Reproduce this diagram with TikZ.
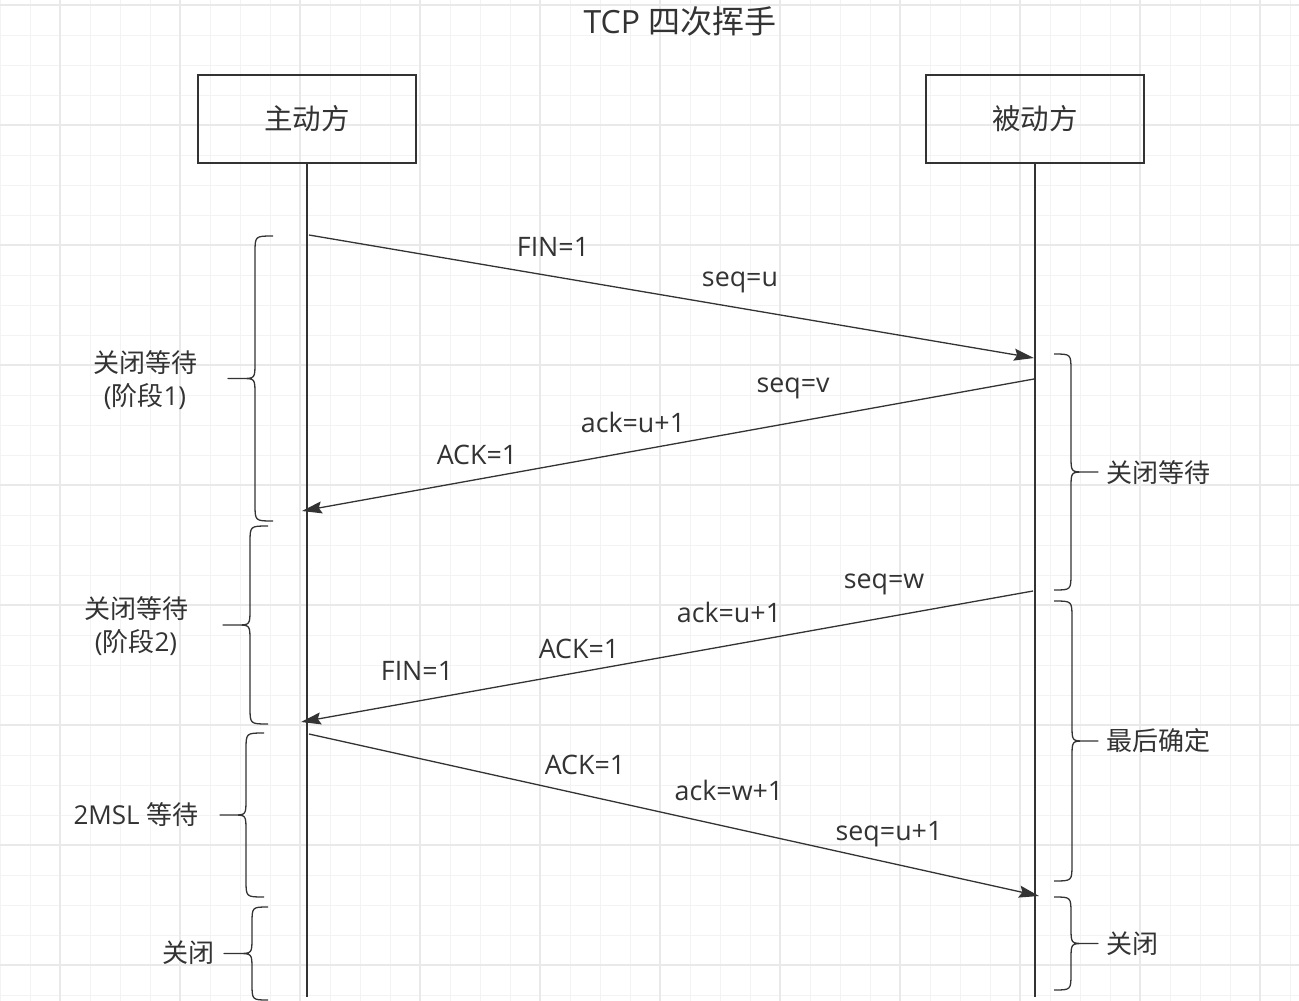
\documentclass[tikz,border=0pt]{standalone}
\usepackage{fontspec}
\setmainfont{Open Sans}
\newfontfamily\cjk{Noto Sans CJK SC}
\usetikzlibrary{arrows.meta}
\definecolor{ink}{HTML}{333333}
\definecolor{gridminor}{HTML}{F3F3F3}
\definecolor{gridmajor}{HTML}{E9E9E9}
\newcommand\mybrc[5]{% #1 end x, #2 spine x, #3 tip x, #4 top y, #5 bottom y
  \pgfmathsetmacro\bm{(#4+#5)/2}%
  \pgfmathsetmacro\bc{#2+0.5*(#3-#2)}%
  \draw[brc] (#1,#4) .. controls (#2,#4) .. (#2,#4+17) -- (#2,\bm-16)
    .. controls (#2,\bm) .. (\bc,\bm) -- (#3,\bm) -- (\bc,\bm)
    .. controls (#2,\bm) .. (#2,\bm+16) -- (#2,#5-17)
    .. controls (#2,#5) .. (#1,#5);
}
\begin{document}
\begin{tikzpicture}[x=1pt,y=-1pt,
  box/.style={draw=ink, line width=1.3pt, minimum width=218pt, minimum height=88pt, inner sep=0pt, text=ink, font=\fontsize{28.5}{34}\selectfont\cjk},
  lbl/.style={inner sep=0pt, text=ink, font=\fontsize{26}{33}\selectfont},
  mlbl/.style={inner sep=0pt, text=ink, font=\fontsize{26.8}{33}\selectfont},
  arr/.style={draw=ink, line width=1.3pt, -{Stealth[length=20pt,width=12pt,inset=3pt]}},
  life/.style={draw=ink, line width=1.3pt},
  brc/.style={draw=ink, line width=1.3pt, line join=round},
  gmin/.style={draw=gridminor, line width=1pt},
  gmaj/.style={draw=gridmajor, line width=1.3pt}]
\fill[white] (0,0) rectangle (1299,1001);
\useasboundingbox (0,0) rectangle (1299,1001);
% grid
\foreach \x in {0,30,...,1290} \draw[gmin] (\x,0) -- (\x,1001);
\foreach \y in {5,35,...,1000} \draw[gmin] (0,\y) -- (1299,\y);
\foreach \x in {60,180,...,1290} \draw[gmaj] (\x,0) -- (\x,1001);
\foreach \y in {5,125,...,1000} \draw[gmaj] (0,\y) -- (1299,\y);
% title
\node[lbl, anchor=base, font=\fontsize{32}{36}\selectfont] (title) at (680,34) {TCP {\cjk 四次挥手}};
% boxes and lifelines
\node[box] (A) at (307,119) {主动方};
\node[box] (B) at (1035,119) {被动方};
\coordinate (Aend) at (307,997);
\coordinate (Bend) at (1035,997);
\draw[life] (A.south) -- (Aend);
\draw[life] (B.south) -- (Bend);
% message endpoints
\coordinate (m1s) at (309,235);  \coordinate (m1e) at (1034,358);
\coordinate (m2s) at (1034,379); \coordinate (m2e) at (302,511);
\coordinate (m3s) at (1033,591); \coordinate (m3e) at (301,722);
\coordinate (m4s) at (309,734);  \coordinate (m4e) at (1039,896);
\draw[arr] (m1s) -- (m1e);
\draw[arr] (m2s) -- (m2e);
\draw[arr] (m3s) -- (m3e);
\draw[arr] (m4s) -- (m4e);
% message labels
\node[mlbl, anchor=base] (t11) at (553,256) {FIN=1};
\node[mlbl, anchor=base] (t12) at (740,286) {seq=u};
\node[mlbl, anchor=base] (t21) at (793,392) {seq=v};
\node[mlbl, anchor=base] (t22) at (633,432) {ack=u+1};
\node[mlbl, anchor=base] (t23) at (477,464) {ACK=1};
\node[mlbl, anchor=base] (t31) at (884,588) {seq=w};
\node[mlbl, anchor=base] (t32) at (729,622) {ack=u+1};
\node[mlbl, anchor=base] (t33) at (579,658) {ACK=1};
\node[mlbl, anchor=base] (t34) at (417,680) {FIN=1};
\node[mlbl, anchor=base] (t41) at (585,774) {ACK=1};
\node[mlbl, anchor=base] (t42) at (729,800) {ack=w+1};
\node[mlbl, anchor=base] (t43) at (889,840) {seq=u+1};
% left braces
\mybrc{273}{255}{228}{236}{521}
\mybrc{268}{250}{223}{526}{724}
\mybrc{264}{246}{220}{733}{897}
\mybrc{268}{252}{224}{907}{1000}
% right braces
\mybrc{1054}{1071}{1098}{354}{590}
\mybrc{1054}{1072}{1098}{601}{881}
\mybrc{1054}{1071}{1098}{897}{990}
% left labels
\node[lbl, align=center] (L1) at (145,380) {{\cjk 关闭等待}\\({\cjk 阶段}1)};
\node[lbl, align=center] (L2) at (136,626) {{\cjk 关闭等待}\\({\cjk 阶段}2)};
\node[lbl] (L3) at (136,815) {2MSL {\cjk 等待}};
\node[lbl] (L4) at (188,953) {\cjk 关闭};
% right labels
\node[lbl, anchor=west] (R1) at (1106,473) {\cjk 关闭等待};
\node[lbl, anchor=west] (R2) at (1106,741) {\cjk 最后确定};
\node[lbl, anchor=west] (R3) at (1106,944) {\cjk 关闭};
\end{tikzpicture}
\end{document}
